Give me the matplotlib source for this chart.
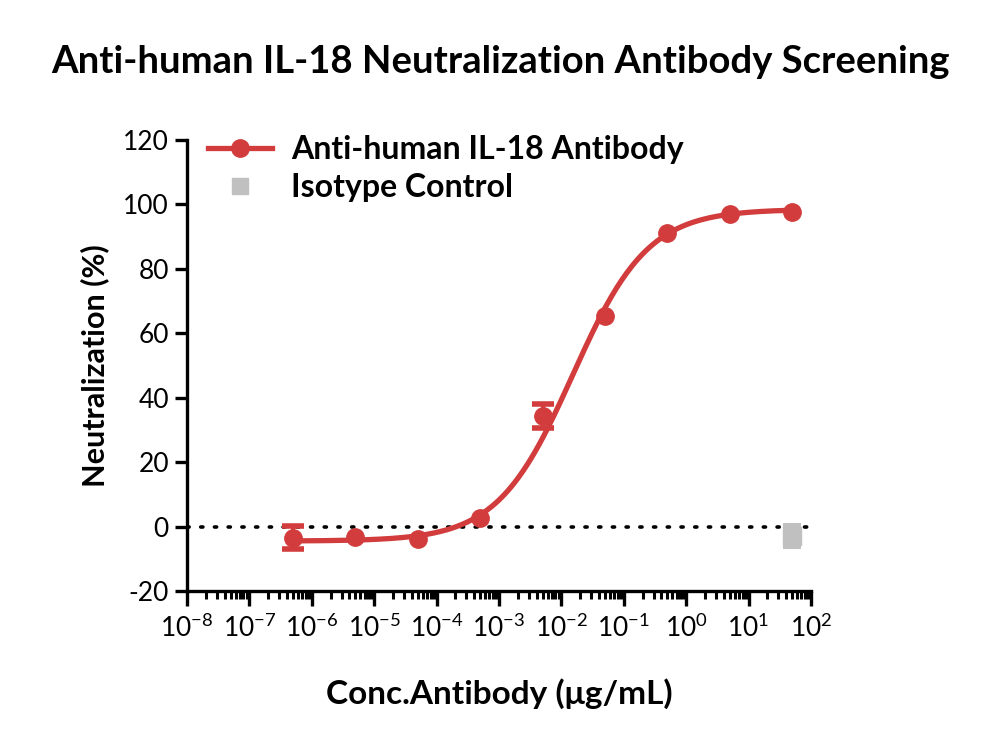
import numpy as np
import matplotlib.pyplot as plt
from matplotlib.ticker import LogLocator, FixedLocator, NullFormatter

plt.rcParams['font.family'] = ['Lato', 'DejaVu Sans']
plt.rcParams['axes.unicode_minus'] = False

# antibody dilution series (ug/mL) and neutralization (%)
conc = [5e-7, 5e-6, 5e-5, 5e-4, 5e-3, 5e-2, 5e-1, 5, 50]
neut = [-3.4, -3.2, -3.8, 2.8, 34.3, 65.3, 91.0, 97.0, 97.8]
neut_err = [3.5, 0, 0, 0, 3.7, 0, 0, 0, 0]

# isotype control
iso_conc = [50]
iso_neut = [-3.0]
iso_err = [4.0]

# 4PL fit parameters
bottom, top, log_ec50, hill = -4.5, 98.5, -1.82, 0.72

red = '#D23C3C'
grey = '#C0C0C0'

fig = plt.figure(figsize=(10, 7.47), dpi=100)
ax = fig.add_axes([0.187, 0.2088, 0.624, 0.6038])

xs = np.logspace(np.log10(conc[0]), np.log10(conc[-1]), 300)
fit = bottom + (top - bottom) / (1 + 10 ** ((log_ec50 - np.log10(xs)) * hill))

ax.plot([1e-8, 1e2], [0, 0], color='black', linestyle=(0, (0.6, 3.2)), lw=2.6,
        dash_capstyle='round', zorder=1)
ax.plot(xs, fit, color=red, lw=3.8, zorder=2)
ax.plot(conc, neut, 'o', color=red, ms=12.5, zorder=3)
# error bars only where there is a spread
has_err = [i for i, e in enumerate(neut_err) if e > 0]
ax.errorbar([conc[i] for i in has_err], [neut[i] for i in has_err],
            yerr=[neut_err[i] for i in has_err], fmt='none', ecolor=red,
            elinewidth=3, capsize=8, capthick=4, zorder=3)
ax.errorbar(iso_conc, iso_neut, yerr=iso_err, fmt='s', color=grey, ms=13,
            elinewidth=13, capsize=0, zorder=3)

# legend handles
ax.plot([], [], color=red, lw=3.8, marker='o', ms=12.5, label='Anti-human IL-18 Antibody')
ax.plot([], [], color=grey, lw=0, marker='s', ms=12, label='Isotype Control')
leg = ax.legend(loc='upper left', bbox_to_anchor=(-0.012, 1.075), frameon=False,
                prop={'size': 23, 'weight': 'bold'}, handlelength=2.0,
                labelspacing=0.3, handletextpad=0.6)

ax.set_xscale('log')
ax.set_xlim(1e-8, 1e2)
ax.set_ylim(-20, 120)
ax.set_yticks(range(-20, 121, 20))
ax.xaxis.set_major_locator(FixedLocator([10.0 ** k for k in range(-8, 3)]))
ax.xaxis.set_minor_locator(LogLocator(base=10, subs=np.arange(2, 10), numticks=20))
ax.xaxis.set_minor_formatter(NullFormatter())
ax.set_xticklabels(['$\\mathregular{10^{%d}}$' % k for k in range(-8, 3)])

for s in ['top', 'right']:
    ax.spines[s].set_visible(False)
for s in ['left', 'bottom']:
    ax.spines[s].set_linewidth(2.4)
ax.tick_params(axis='both', which='major', width=2.4, labelsize=19, direction='out')
ax.tick_params(axis='y', length=9, pad=4)
ax.tick_params(axis='x', which='major', length=11, pad=6)
ax.tick_params(axis='x', which='minor', length=6, width=2.2)

ax.set_ylabel('Neutralization (%)', fontsize=22, fontweight='bold', labelpad=10)
ax.set_xlabel('Conc.Antibody (\u03bcg/mL)', fontsize=24, fontweight='bold', labelpad=26)
fig.suptitle('Anti-human IL-18 Neutralization Antibody Screening', fontsize=27.5,
             fontweight='bold', y=0.94)

fig.savefig('out.png', dpi=100)
